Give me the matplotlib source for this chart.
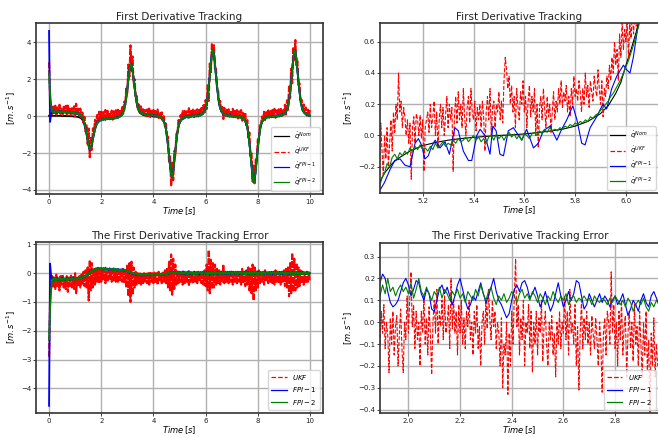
import numpy as np
import matplotlib
matplotlib.use("Agg")
import matplotlib.pyplot as plt

# ---------------- full-run data (0 .. 10 s, sample step 0.04 s) ----------------
left_step = 0.04
nominal = [
    0.02, 0.02, 0.02, 0.02, 0.02, 0.02, 0.02, 0.02, 0.02, 0.02,
    0.02, 0.02, 0.01, 0.01, 0.01, 0.01, 0.01, 0.0, 0.0, 0.0,
    0.0, 0.0, -0.008, -0.01, -0.013, -0.018, -0.025, -0.034, -0.047, -0.066,
    -0.09, -0.13, -0.2, -0.31, -0.49, -0.74, -1.0, -1.32, -1.62, -1.78,
    -1.72, -1.48, -1.16, -0.87, -0.6, -0.39, -0.24, -0.16, -0.11, -0.08,
    -0.056, -0.04, -0.027, -0.02, -0.014, -0.01, -0.008, -0.006, -0.004, -0.002,
    0.003, 0.01, 0.013, 0.018, 0.025, 0.035, 0.05, 0.07, 0.1, 0.136,
    0.19, 0.29, 0.435, 0.7, 1.07, 1.51, 2.0, 2.49, 2.84, 2.84,
    2.49, 2.0, 1.51, 1.07, 0.7, 0.435, 0.29, 0.19, 0.136, 0.1,
    0.07, 0.05, 0.035, 0.025, 0.018, 0.013, 0.01, 0.0, -0.003, -0.007,
    -0.01, -0.014, -0.019, -0.026, -0.036, -0.05, -0.073, -0.1, -0.145, -0.2,
    -0.3, -0.45, -0.71, -1.1, -1.6, -2.13, -2.71, -3.15, -3.27, -2.97,
    -2.43, -1.85, -1.35, -0.89, -0.56, -0.36, -0.24, -0.17, -0.12, -0.086,
    -0.063, -0.045, -0.033, -0.024, -0.017, -0.012, -0.009, 0.0, 0.007, 0.01,
    0.014, 0.018, 0.025, 0.036, 0.05, 0.072, 0.1, 0.144, 0.2, 0.29,
    0.43, 0.68, 1.08, 1.62, 2.16, 2.81, 3.35, 3.6, 3.35, 2.81,
    2.16, 1.62, 1.08, 0.68, 0.43, 0.29, 0.2, 0.144, 0.1, 0.072,
    0.05, 0.036, 0.025, 0.018, 0.014, 0.006, 0.0, -0.007, -0.01, -0.013,
    -0.018, -0.025, -0.034, -0.047, -0.068, -0.094, -0.13, -0.18, -0.26, -0.4,
    -0.61, -0.97, -1.48, -2.02, -2.65, -3.24, -3.56, -3.44, -2.95, -2.32,
    -1.75, -1.21, -0.77, -0.49, -0.32, -0.22, -0.16, -0.11, -0.08, -0.054,
    -0.038, -0.028, -0.02, -0.015, -0.011, -0.004, 0.0, 0.008, 0.012, 0.016,
    0.022, 0.03, 0.043, 0.061, 0.086, 0.12, 0.17, 0.234, 0.36, 0.54,
    0.86, 1.33, 1.87, 2.48, 3.1, 3.53, 3.53, 3.1, 2.48, 1.87,
    1.33, 0.86, 0.54, 0.36, 0.234, 0.17, 0.12, 0.086, 0.061, 0.043,
    0.03,
]

# tracking errors (nominal - estimate)
err_ukf = [
    -2.9, -0.9, -0.45, -0.1, -0.5, -0.15, -0.55, -0.05, -0.45, -0.2,
    -0.6, -0.1, -0.4, -0.05, -0.5, -0.25, -0.55, -0.1, -0.65, -0.15,
    -0.45, -0.05, -0.5, -0.2, -0.55, 0.0, -0.7, -0.15, -0.45, -0.1,
    -0.5, -0.05, -0.4, 0.05, -0.45, 0.1, -0.5, 0.2, -0.95, 0.45,
    -0.6, 0.35, -0.5, 0.15, -0.4, 0.15, -0.3, 0.1, -0.35, 0.1,
    -0.3, 0.1, -0.25, 0.12, -0.35, 0.05, -0.3, 0.1, -0.2, 0.08,
    -0.3, 0.2, -0.25, 0.05, -0.3, 0.1, -0.3, 0.05, -0.25, 0.1,
    -0.3, 0.15, -0.35, 0.1, -0.5, 0.3, -0.8, 0.35, -1.0, 0.4,
    -0.75, 0.2, -0.5, 0.05, -0.4, 0.0, -0.35, 0.02, -0.4, -0.02,
    -0.35, 0.0, -0.3, 0.03, -0.35, 0.0, -0.4, 0.05, -0.3, 0.0,
    -0.35, 0.02, -0.3, 0.0, -0.4, 0.05, -0.3, 0.0, -0.35, 0.05,
    -0.3, 0.1, -0.35, 0.15, -0.5, 0.4, -0.6, 0.65, -0.75, 0.5,
    -0.55, 0.3, -0.4, 0.1, -0.35, 0.05, -0.3, 0.0, -0.4, 0.05,
    -0.35, 0.0, -0.3, 0.05, -0.45, 0.0, -0.3, -0.05, -0.35, 0.05,
    -0.3, 0.0, -0.35, 0.05, -0.3, 0.0, -0.35, 0.05, -0.4, 0.1,
    -0.45, 0.3, -0.6, 0.8, -0.7, 0.5, -0.55, 0.35, -0.5, 0.3,
    -0.4, 0.15, -0.35, 0.1, -0.4, 0.05, -0.3, 0.3, -0.35, 0.05,
    -0.3, 0.0, -0.35, 0.05, -0.3, 0.1, -0.4, 0.0, -0.3, 0.05,
    -0.35, 0.1, -0.3, 0.0, -0.4, 0.15, -0.35, 0.05, -0.45, 0.1,
    -0.4, 0.2, -0.6, 0.15, -0.7, 0.3, -0.95, 0.2, -0.6, 0.1,
    -0.5, 0.1, -0.35, 0.0, -0.3, 0.05, -0.4, 0.1, -0.3, 0.0,
    -0.35, 0.05, -0.3, 0.0, -0.35, 0.05, -0.4, 0.1, -0.3, 0.05,
    -0.35, 0.0, -0.4, 0.05, -0.3, 0.1, -0.45, 0.15, -0.5, 0.2,
    -0.8, 0.35, -0.7, 0.7, -0.65, 0.5, -0.6, 0.35, -0.5, 0.2,
    -0.45, 0.1, -0.35, 0.05, -0.4, 0.0, -0.35, 0.05, -0.3, 0.0,
    -0.3,
]
err_fpi1 = [
    -4.6, 0.33, -0.1, -0.22, -0.15, -0.25, -0.18, -0.22, -0.14, -0.24,
    -0.18, -0.26, -0.2, -0.15, -0.23, -0.19, -0.25, -0.16, -0.22, -0.2,
    -0.24, -0.17, -0.21, -0.13, -0.22, -0.18, -0.2, -0.15, -0.21, -0.17,
    -0.19, -0.14, -0.17, -0.12, -0.13, -0.08, -0.08, -0.02, -0.03, 0.05,
    0.03, 0.1, 0.08, 0.14, 0.12, 0.17, 0.13, 0.19, 0.14, 0.16,
    0.18, 0.12, 0.17, 0.13, 0.19, 0.12, 0.16, 0.11, 0.17, 0.13,
    0.15, 0.1, 0.16, 0.12, 0.14, 0.09, 0.15, 0.11, 0.13, 0.1,
    0.14, 0.08, 0.12, 0.07, 0.1, 0.04, 0.06, 0.0, 0.03, -0.02,
    0.01, -0.04, -0.01, -0.06, -0.03, -0.08, -0.04, -0.07, -0.05, -0.09,
    -0.04, -0.07, -0.03, -0.08, -0.05, -0.06, -0.04, -0.08, -0.03, -0.07,
    -0.05, -0.06, -0.03, -0.07, -0.04, -0.06, -0.02, -0.07, -0.04, -0.05,
    -0.03, -0.06, -0.02, -0.04, 0.0, -0.03, 0.04, 0.0, 0.06, 0.02,
    0.05, 0.0, 0.04, -0.02, 0.05, -0.03, 0.04, -0.02, 0.06, -0.04,
    0.05, -0.05, 0.03, -0.02, 0.07, -0.03, 0.04, -0.06, 0.02, 0.05,
    -0.03, 0.04, -0.02, 0.03, -0.05, 0.04, -0.01, 0.05, -0.03, 0.02,
    -0.04, 0.06, -0.02, 0.05, -0.06, 0.03, -0.03, 0.04, -0.05, 0.02,
    -0.02, 0.05, -0.04, 0.03, -0.01, 0.05, -0.03, 0.04, -0.02, 0.03,
    -0.04, 0.05, -0.02, 0.03, -0.05, 0.04, -0.01, 0.05, -0.03, 0.02,
    -0.02, 0.04, -0.04, 0.05, -0.02, 0.03, -0.05, 0.04, -0.02, 0.06,
    -0.03, 0.04, -0.05, 0.03, -0.02, 0.05, -0.04, 0.02, -0.03, 0.04,
    -0.02, 0.05, -0.03, 0.04, -0.01, 0.03, -0.04, 0.05, -0.02, 0.03,
    -0.03, 0.04, -0.02, 0.05, -0.04, 0.03, -0.01, 0.04, -0.03, 0.02,
    -0.02, 0.05, -0.03, 0.04, -0.05, 0.03, -0.02, 0.04, -0.03, 0.05,
    -0.04, 0.03, -0.02, 0.05, -0.03, 0.04, -0.02, 0.03, -0.04, 0.05,
    -0.02, 0.04, -0.03, 0.05, -0.01, 0.03, -0.04, 0.04, -0.02, 0.03,
    0.0,
]
err_fpi2 = [
    -2.3, -1.25, -0.6, -0.25, -0.17, -0.24, -0.17, -0.25, -0.18, -0.23,
    -0.17, -0.25, -0.18, -0.24, -0.16, -0.23, -0.18, -0.25, -0.17, -0.23,
    -0.18, -0.24, -0.16, -0.23, -0.17, -0.22, -0.16, -0.23, -0.15, -0.21,
    -0.14, -0.19, -0.12, -0.15, -0.09, -0.11, -0.04, -0.06, 0.01, 0.0,
    0.06, 0.05, 0.11, 0.09, 0.15, 0.12, 0.17, 0.14, 0.18, 0.13,
    0.17, 0.12, 0.18, 0.11, 0.17, 0.12, 0.15, 0.13, 0.14, 0.12,
    0.15, 0.1, 0.16, 0.09, 0.15, 0.1, 0.13, 0.11, 0.12, 0.1,
    0.13, 0.08, 0.11, 0.08, 0.1, 0.05, 0.07, 0.02, 0.04, -0.01,
    0.02, -0.03, 0.0, -0.05, -0.02, -0.07, -0.02, -0.08, -0.03, -0.08,
    -0.03, -0.08, -0.02, -0.08, -0.03, -0.07, -0.04, -0.06, -0.03, -0.08,
    -0.03, -0.06, -0.04, -0.07, -0.02, -0.07, -0.02, -0.07, -0.01, -0.06,
    -0.01, -0.06, 0.0, -0.05, 0.01, -0.02, 0.04, 0.0, 0.05, 0.0,
    0.04, -0.01, 0.05, -0.02, 0.04, -0.03, 0.04, -0.02, 0.03, -0.03,
    0.04, -0.03, 0.03, -0.04, 0.04, -0.02, 0.03, -0.04, 0.04, -0.03,
    0.03, -0.04, 0.04, -0.02, 0.01, 0.04, -0.04, 0.03, -0.02, -0.03,
    0.04, -0.04, 0.05, -0.03, 0.04, -0.04, 0.05, -0.03, 0.04, -0.04,
    0.04, -0.02, 0.03, -0.04, 0.04, -0.03, 0.03, -0.04, 0.04, -0.02,
    0.03, -0.04, 0.04, -0.03, 0.03, -0.04, 0.04, -0.02, 0.03, -0.03,
    0.04, -0.04, 0.03, -0.02, 0.04, -0.03, 0.03, -0.04, 0.04, -0.03,
    0.04, -0.04, 0.05, -0.03, 0.04, -0.04, 0.05, -0.03, 0.04, -0.04,
    0.03, -0.02, 0.04, -0.03, 0.03, -0.04, 0.04, -0.03, 0.03, -0.02,
    0.04, -0.04, 0.03, -0.03, 0.04, -0.02, 0.03, -0.04, 0.04, -0.03,
    0.03, -0.04, 0.04, -0.02, 0.03, -0.03, 0.04, -0.04, 0.03, -0.02,
    0.04, -0.04, 0.05, -0.03, 0.04, -0.04, 0.05, -0.03, 0.04, -0.04,
    0.04, -0.03, 0.03, -0.04, 0.04, -0.02, 0.03, -0.03, 0.04, -0.03,
    0.0,
]

# ---------------- zoom window 1 (5.03 .. 6.13 s) ----------------
zr_nom_t = [5.03, 5.05, 5.08, 5.10, 5.15, 5.20, 5.25, 5.30, 5.35, 5.40, 5.45, 5.50,
            5.55, 5.60, 5.65, 5.70, 5.75, 5.80, 5.85, 5.90, 5.93, 5.96, 5.98,
            6.00, 6.02, 6.04, 6.06, 6.10, 6.14]
zr_nom_v = [-0.30, -0.24, -0.18, -0.15, -0.10, -0.065, -0.045, -0.03, -0.02, -0.012,
            -0.006, 0.0, 0.004, 0.01, 0.018, 0.028, 0.04, 0.06, 0.09, 0.14, 0.19,
            0.27, 0.34, 0.45, 0.55, 0.66, 0.80, 1.15, 1.6]
zr_ukf_t0, zr_ukf_dt = 5.03, 0.005
zr_ukf = [
    -0.28, 0.08, -0.1, -0.25, 0.0, -0.15, 0.05, -0.2, -0.05, 0.1, -0.1, 0.15, 0.02, 0.2, 0.1, 0.4, 0.15, 0.22, 0.05, 0.18,
    0.12, 0.0, 0.1, -0.05, 0.08, -0.28, 0.05, 0.12, -0.05, 0.14, 0.1, 0.0, 0.13, -0.02, 0.1, -0.23, 0.05, 0.1, 0.15, 0.02,
    0.2, 0.05, 0.12, 0.22, 0.0, 0.15, -0.08, 0.1, 0.2, 0.05, 0.18, 0.0, 0.12, 0.25, 0.05, 0.2, 0.1, 0.18, -0.23, 0.12,
    0.25, 0.08, 0.28, 0.1, 0.2, 0.05, 0.3, 0.12, 0.0, 0.18, 0.25, 0.08, 0.3, 0.15, 0.1, 0.22, 0.03, 0.18, 0.1, 0.2,
    0.05, 0.22, 0.12, -0.1, 0.15, 0.25, 0.1, 0.3, 0.0, 0.18, 0.22, 0.05, 0.2, 0.15, 0.28, 0.1, 0.22, 0.08, 0.35, 0.5,
    0.42, 0.3, 0.38, 0.2, 0.32, 0.15, 0.25, 0.05, 0.3, 0.18, 0.1, 0.28, 0.2, 0.35, 0.15, 0.25, 0.05, 0.22, 0.32, 0.12,
    0.25, 0.15, 0.3, 0.0, 0.2, -0.08, 0.18, 0.25, 0.1, 0.3, 0.18, 0.05, 0.25, 0.12, 0.2, 0.02, 0.15, 0.28, 0.1, 0.22,
    0.15, 0.3, 0.2, 0.35, 0.18, 0.28, 0.22, 0.32, 0.15, 0.25, 0.12, 0.3, 0.2, 0.38, 0.25, 0.3, 0.22, 0.35, 0.28, 0.15,
    0.3, 0.2, 0.4, 0.25, 0.32, 0.18, 0.35, 0.28, 0.22, 0.38, 0.3, 0.25, 0.42, 0.3, 0.2, 0.35, 0.12, 0.3, 0.25, 0.38,
    0.3, 0.45, 0.35, 0.5, 0.4, 0.6, 0.45, 0.55, 0.35, 0.65, 0.5, 0.72, 0.55, 0.68, 0.6, 0.75, 0.5, 0.72, 0.62, 0.78,
    0.65, 0.8, 0.7, 0.85, 0.75, 0.9, 0.8, 1.0, 0.9, 1.1, 1.0, 1.2, 1.1, 1.3, 1.2, 1.4, 1.3, 1.5, 1.4, 1.6,
]
zr_fpi1_t = [5.032, 5.05, 5.071, 5.09, 5.111, 5.13, 5.150, 5.170, 5.183, 5.195, 5.209,
             5.222, 5.235, 5.249, 5.268, 5.288, 5.305, 5.327, 5.340, 5.360, 5.380,
             5.393, 5.413, 5.426, 5.445, 5.465, 5.476, 5.489, 5.504, 5.518, 5.537,
             5.557, 5.577, 5.590, 5.609, 5.636, 5.655, 5.675, 5.701, 5.728, 5.747,
             5.767, 5.791, 5.807, 5.826, 5.839, 5.859, 5.885, 5.909, 5.924, 5.944,
             5.964, 5.990, 6.003, 6.016, 6.029, 6.049, 6.07]
zr_fpi1_v = [-0.35, -0.3, -0.22, -0.16, -0.15, -0.19, -0.2, -0.05, -0.02, -0.06, -0.15,
             -0.13, -0.07, -0.03, -0.08, -0.04, -0.12, 0.05, 0.03, -0.1, -0.16,
             -0.16, 0.0, 0.04, 0.0, -0.12, 0.06, 0.03, -0.12, -0.13, 0.03,
             0.05, 0.0, -0.03, 0.04, -0.08, -0.05, 0.03, 0.06, -0.03, 0.04,
             0.1, 0.19, 0.1, -0.05, -0.06, 0.05, 0.12, 0.2, 0.17, 0.3,
             0.38, 0.45, 0.42, 0.4, 0.5, 0.72, 1.0]
zr_fpi2_t0, zr_fpi2_dt = 5.03, 0.01
zr_fpi2 = [
    -0.33, -0.27, -0.24, -0.18, -0.2, -0.14, -0.12, -0.15, -0.11, -0.13,
    -0.1, -0.12, -0.08, -0.1, -0.07, -0.09, -0.06, -0.09, -0.08, -0.1,
    -0.07, -0.09, -0.05, -0.08, -0.06, -0.04, -0.07, -0.05, -0.06, -0.03,
    -0.05, -0.02, -0.04, -0.03, -0.01, -0.04, -0.02, 0.0, -0.03, -0.01,
    -0.04, -0.02, -0.05, -0.01, 0.0, -0.03, 0.01, -0.02, 0.0, -0.03,
    0.0, 0.02, -0.01, 0.01, -0.02, 0.0, -0.03, 0.01, 0.0, -0.02,
    0.01, 0.02, 0.0, 0.03, 0.01, 0.04, 0.02, 0.05, 0.03, 0.04,
    0.03, 0.05, 0.04, 0.06, 0.05, 0.07, 0.06, 0.08, 0.07, 0.09,
    0.08, 0.1, 0.09, 0.12, 0.11, 0.13, 0.14, 0.16, 0.18, 0.2,
    0.22, 0.25, 0.27, 0.3, 0.33, 0.36, 0.4, 0.44, 0.48, 0.53,
    0.58, 0.64, 0.7, 0.77, 0.85, 0.93, 1.02, 1.12, 1.22, 1.33,
]

# ---------------- zoom window 2 (1.89 .. 2.97 s), tracking errors ----------------
ze_ukf_t0, ze_ukf_dt = 1.89, 0.005
ze_ukf = [
    -0.1, 0.05, -0.05, 0.08, -0.12, 0.0, -0.06, -0.23, 0.02, -0.1, 0.05, -0.15, -0.02, 0.03, -0.2, -0.05, 0.06, -0.12, -0.23, 0.0,
    -0.08, 0.12, -0.05, 0.1, 0.23, -0.02, 0.08, -0.12, 0.05, -0.08, 0.0, -0.2, 0.05, -0.05, 0.12, -0.1, 0.02, -0.15, 0.07, -0.05,
    -0.24, 0.0, 0.1, -0.05, 0.15, -0.1, 0.05, -0.02, 0.1, -0.08, 0.12, -0.05, 0.0, 0.08, -0.12, 0.2, -0.03, 0.1, -0.05, 0.05,
    -0.15, 0.08, -0.05, 0.1, -0.1, 0.02, -0.12, 0.05, -0.02, 0.1, -0.08, 0.0, -0.15, 0.05, -0.05, 0.08, -0.12, -0.02, -0.2, 0.0,
    0.05, -0.1, 0.1, -0.03, 0.15, 0.02, -0.08, 0.1, -0.02, 0.05, -0.12, 0.0, -0.05, -0.2, 0.02, -0.3, -0.1, -0.15, 0.0, -0.33,
    -0.05, -0.2, 0.05, -0.1, 0.12, 0.29, -0.02, 0.08, -0.15, 0.02, -0.08, 0.1, -0.2, 0.0, -0.05, 0.08, -0.12, 0.05, -0.23, 0.0,
    -0.1, 0.05, -0.15, 0.02, -0.05, 0.1, -0.18, -0.02, 0.05, -0.1, -0.2, 0.0, -0.08, 0.03, -0.15, -0.05, -0.25, 0.0, -0.1, 0.05,
    -0.12, 0.0, -0.05, 0.12, -0.08, 0.05, -0.15, 0.15, -0.05, 0.0, -0.1, 0.08, -0.2, -0.02, -0.31, -0.05, 0.1, -0.12, 0.02, -0.08,
    0.05, -0.1, 0.0, -0.15, 0.03, -0.05, -0.12, 0.02, -0.08, -0.2, 0.0, -0.1, -0.32, -0.05, 0.02, -0.15, 0.05, 0.0, -0.1, 0.23,
    -0.05, 0.08, -0.12, 0.0, -0.2, 0.05, -0.08, 0.1, -0.15, -0.02, 0.03, -0.25, -0.05, 0.05, -0.12, 0.0, -0.18, 0.08, -0.1, -0.02,
    -0.2, 0.05, -0.1, -0.25, 0.0, -0.15, 0.05, -0.22, -0.08, -0.42, -0.05, -0.2, 0.02, -0.25, -0.1, -0.2,
]
ze_fpi_t0, ze_fpi_dt = 1.89, 0.01
ze_fpi1 = [
    0.18, 0.22, 0.2, 0.14, 0.09, 0.07, 0.08, 0.1, 0.14, 0.18,
    0.2, 0.17, 0.12, 0.15, 0.19, 0.18, 0.13, 0.1, 0.15, 0.13,
    0.06, 0.05, 0.1, 0.15, 0.17, 0.13, 0.16, 0.12, 0.08, 0.12,
    0.17, 0.2, 0.15, 0.1, 0.06, 0.08, 0.12, 0.1, 0.14, 0.18,
    0.13, 0.09, 0.12, 0.16, 0.2, 0.14, 0.1, 0.08, 0.05, 0.02,
    0.04, 0.1, 0.15, 0.17, 0.14, 0.18, 0.19, 0.16, 0.11, 0.13,
    0.16, 0.12, 0.07, 0.1, 0.14, 0.09, 0.05, 0.08, 0.13, 0.18,
    0.12, 0.07, 0.1, 0.14, 0.1, 0.13, 0.19, 0.18, 0.12, 0.06,
    0.08, 0.13, 0.1, 0.07, 0.1, 0.13, 0.09, 0.12, 0.1, 0.07,
    0.1, 0.12, 0.08, 0.1, 0.13, 0.08, 0.03, 0.06, 0.1, 0.08,
    0.05, 0.1, 0.13, 0.09, 0.07, 0.12, 0.14, 0.11, 0.08,
]
ze_fpi2 = [
    0.12, 0.17, 0.13, 0.2, 0.14, 0.16, 0.12, 0.15, 0.17, 0.14,
    0.16, 0.13, 0.18, 0.11, 0.15, 0.2, 0.14, 0.12, 0.16, 0.13,
    0.1, 0.14, 0.12, 0.16, 0.11, 0.15, 0.13, 0.1, 0.14, 0.12,
    0.15, 0.11, 0.13, 0.09, 0.14, 0.12, 0.1, 0.15, 0.12, 0.17,
    0.13, 0.1, 0.14, 0.16, 0.11, 0.08, 0.12, 0.1, 0.13, 0.09,
    0.11, 0.14, 0.12, 0.09, 0.13, 0.15, 0.11, 0.13, 0.1, 0.14,
    0.12, 0.09, 0.13, 0.11, 0.08, 0.12, 0.1, 0.14, 0.11, 0.09,
    0.12, 0.1, 0.13, 0.08, 0.11, 0.12, 0.09, 0.11, 0.1, 0.12,
    0.1, 0.11, 0.08, 0.12, 0.1, 0.09, 0.11, 0.1, 0.08, 0.11,
    0.09, 0.12, 0.1, 0.08, 0.1, 0.07, 0.11, 0.09, 0.05, 0.08,
    0.1, 0.08, 0.11, 0.07, 0.05, 0.09, 0.07, 0.1, 0.08,
]

# ---------------- text ----------------
title_track = "First Derivative Tracking"
title_err = "The First Derivative Tracking Error"
xlabel = r"$Time\,[s]$"
ylabel = r"$[m.s^{-1}]$"
track_labels = [r"$\dot{q}^{Nom}$", r"$\dot{q}^{UKF}$", r"$\dot{q}^{FPI-1}$", r"$\dot{q}^{FPI-2}$"]
err_labels = [r"$UKF$", r"$FPI-1$", r"$FPI-2$"]

# ---------------- derived arrays ----------------
n = min(len(nominal), len(err_ukf), len(err_fpi1), len(err_fpi2))
t_full = np.arange(n) * left_step
nom = np.array(nominal[:n])
e_ukf = np.array(err_ukf[:n])
e_f1 = np.array(err_fpi1[:n])
e_f2 = np.array(err_fpi2[:n])
est_ukf = nom - e_ukf
est_f1 = nom - e_f1
est_f2 = nom - e_f2

t_zr_ukf = zr_ukf_t0 + np.arange(len(zr_ukf)) * zr_ukf_dt
t_zr_f2 = zr_fpi2_t0 + np.arange(len(zr_fpi2)) * zr_fpi2_dt
t_ze_ukf = ze_ukf_t0 + np.arange(len(ze_ukf)) * ze_ukf_dt
t_ze_f1 = ze_fpi_t0 + np.arange(len(ze_fpi1)) * ze_fpi_dt
t_ze_f2 = ze_fpi_t0 + np.arange(len(ze_fpi2)) * ze_fpi_dt

# ---------------- figure ----------------
fig = plt.figure(figsize=(6.58, 4.37), dpi=100)
ax_tl = fig.add_axes([0.0547, 0.556, 0.4362, 0.3914])
ax_tr = fig.add_axes([0.5775, 0.5584, 0.4240, 0.3890])
ax_bl = fig.add_axes([0.0547, 0.0549, 0.4362, 0.3913])
ax_br = fig.add_axes([0.5775, 0.0549, 0.4240, 0.3891])

LW = 0.8      # zoomed panels
LWL = 1.3     # full-run panels (dense signals)
LWR = 1.5     # full-run UKF band
DASH_L = (3, 0.7)

def style(ax, title):
    ax.set_axisbelow(True)
    ax.grid(True, color="#b0b0b0", linewidth=1.0)
    for s in ax.spines.values():
        s.set_linewidth(1.2)
        s.set_color("#333333")
    ax.tick_params(labelsize=5, length=2, width=0.6, pad=1.5, colors="#222222")
    ax.set_title(title, fontsize=7.5, pad=2.5, color="#222222")
    ax.set_xlabel(xlabel, fontsize=6, labelpad=0.5)
    ax.set_ylabel(ylabel, fontsize=6, labelpad=2)

def add_legend(ax):
    leg = ax.legend(loc="lower right", fontsize=5, handlelength=2.2, borderpad=0.4, labelspacing=0.5)
    for ln in leg.get_lines():
        ln.set_linewidth(0.9)
        if ln.get_color() == "r":
            ln.set_dashes((3.7, 1.6))

# top-left
ax_tl.plot(t_full, nom, color="k", lw=LWL, label=track_labels[0])
ax_tl.plot(t_full, est_ukf, color="r", ls="--", dashes=DASH_L, lw=LWR, label=track_labels[1])
ax_tl.plot(t_full, est_f1, color="b", lw=LWL, label=track_labels[2])
ax_tl.plot(t_full, est_f2, color="g", lw=LWL, label=track_labels[3])
ax_tl.set_xlim(-0.5, 10.5)
ax_tl.set_ylim(-4.22, 5.05)
ax_tl.set_xticks([0, 2, 4, 6, 8, 10])
ax_tl.set_yticks([-4, -2, 0, 2, 4])
style(ax_tl, title_track)
add_legend(ax_tl)

# top-right
ax_tr.plot(zr_nom_t, zr_nom_v, color="k", lw=LW, label=track_labels[0])
ax_tr.plot(t_zr_ukf, zr_ukf, color="r", ls="--", lw=LW, label=track_labels[1])
ax_tr.plot(zr_fpi1_t, zr_fpi1_v, color="b", lw=LW, label=track_labels[2])
ax_tr.plot(t_zr_f2, zr_fpi2, color="g", lw=LW, label=track_labels[3])
ax_tr.set_xlim(5.032, 6.13)
ax_tr.set_ylim(-0.368, 0.72)
ax_tr.set_xticks([5.2, 5.4, 5.6, 5.8, 6.0])
ax_tr.set_yticks([-0.2, 0.0, 0.2, 0.4, 0.6])
style(ax_tr, title_track)
add_legend(ax_tr)

# bottom-left
ax_bl.plot(t_full, e_ukf, color="r", ls="--", dashes=DASH_L, lw=LWR, label=err_labels[0])
ax_bl.plot(t_full, e_f1, color="b", lw=LWL, label=err_labels[1])
ax_bl.plot(t_full, e_f2, color="g", lw=LWL, label=err_labels[2])
ax_bl.set_xlim(-0.5, 10.5)
ax_bl.set_ylim(-4.85, 1.08)
ax_bl.set_xticks([0, 2, 4, 6, 8, 10])
ax_bl.set_yticks([-4, -3, -2, -1, 0, 1])
style(ax_bl, title_err)
add_legend(ax_bl)

# bottom-right
ax_br.plot(t_ze_ukf, ze_ukf, color="r", ls="--", lw=LW, label=err_labels[0])
ax_br.plot(t_ze_f1, ze_fpi1, color="b", lw=LW, label=err_labels[1])
ax_br.plot(t_ze_f2, ze_fpi2, color="g", lw=LW, label=err_labels[2])
ax_br.set_xlim(1.89, 2.97)
ax_br.set_ylim(-0.415, 0.362)
ax_br.set_xticks([2.0, 2.2, 2.4, 2.6, 2.8])
ax_br.set_yticks([-0.4, -0.3, -0.2, -0.1, 0.0, 0.1, 0.2, 0.3])
style(ax_br, title_err)
add_legend(ax_br)

fig.savefig("out.png", dpi=100)
